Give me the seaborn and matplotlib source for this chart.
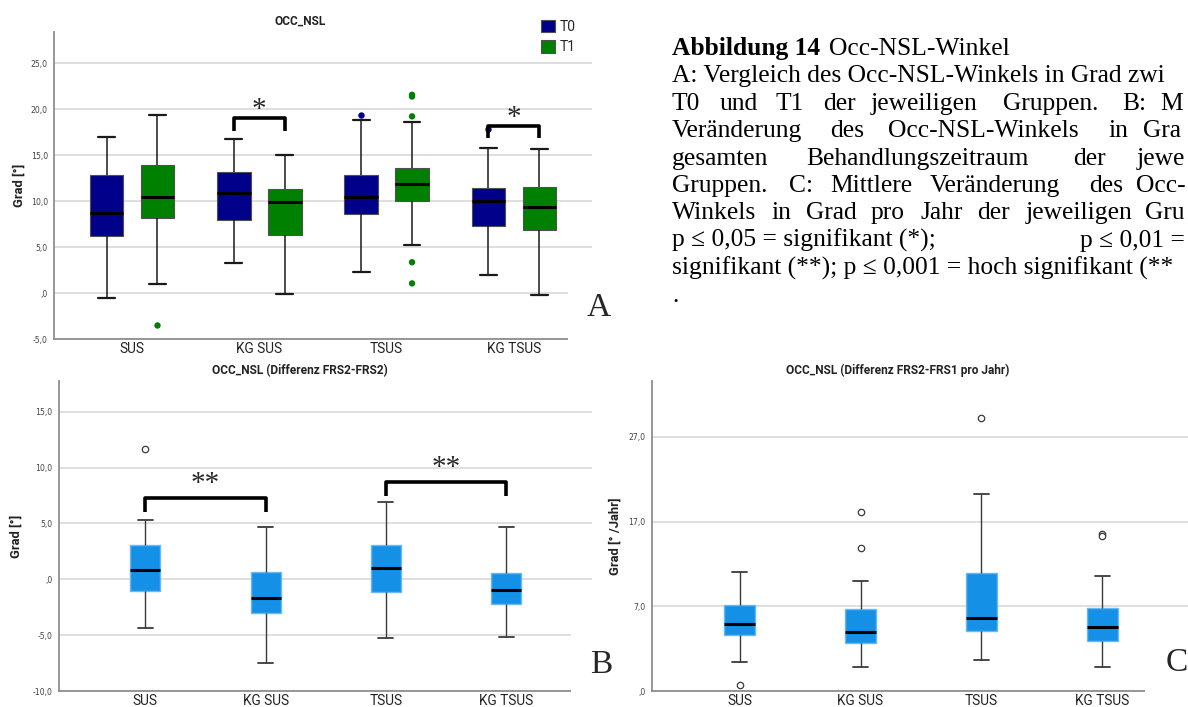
import matplotlib
matplotlib.use("Agg")
import matplotlib.pyplot as plt
from matplotlib.patches import Rectangle
import pandas as pd
import seaborn as sns

# ---------------------------------------------------------------- data
groups = ["SUS", "KG SUS", "TSUS", "KG TSUS"]
times = ["T0", "T1"]

# five-number summaries per group: lower whisker, Q1, median, Q3, upper whisker
occ_t0 = [[-0.58, 6.17, 8.76, 12.80, 17.00],
          [3.25, 7.97, 10.93, 13.16, 16.77],
          [2.24, 8.58, 10.46, 12.84, 18.86],
          [1.95, 7.32, 10.06, 11.47, 15.76]]
occ_t1 = [[0.94, 8.15, 10.46, 13.96, 19.37],
          [-0.14, 6.31, 9.92, 11.36, 15.04],
          [5.23, 10.06, 11.86, 13.63, 18.64],
          [-0.25, 6.82, 9.34, 11.54, 15.65]]
occ_out_t0 = {"TSUS": [19.37], "KG TSUS": [17.89]}
occ_out_t1 = {"SUS": [-3.46], "TSUS": [21.57, 21.38, 19.22, 3.35, 1.05]}

diff_stats = [[-4.39, -1.02, 0.81, 3.05, 5.32],
              [-7.50, -3.02, -1.67, 0.69, 4.69],
              [-5.29, -1.11, 1.02, 3.08, 6.93],
              [-5.17, -2.24, -0.99, 0.54, 4.69]]
diff_out = {"SUS": [11.62]}

rate_stats = [[0.43, 3.58, 4.92, 7.13, 11.07],
              [-0.16, 2.64, 3.94, 6.66, 9.97],
              [0.63, 4.13, 5.63, 10.91, 20.22],
              [-0.16, 2.95, 4.53, 6.81, 10.52]]
rate_out = {"SUS": [-2.25], "KG SUS": [18.09, 13.91], "TSUS": [29.2],
            "KG TSUS": [15.49, 15.33]}

a_ticks = [-5, 0, 5, 10, 15, 20, 25]
a_tick_labels = ["-5,0", ",0", "5,0", "10,0", "15,0", "20,0", "25,0"]
b_ticks = [-10, -5, 0, 5, 10, 15]
b_tick_labels = ["-10,0", "-5,0", ",0", "5,0", "10,0", "15,0"]
c_ticks = [-3, 7, 17, 27]
c_tick_labels = [",0", "7,0", "17,0", "27,0"]

# significance brackets: (left end, right end, bracket height, leg end, stars)
a_brackets = [(0.8, 1.2, 19.04, 17.67, "*"), (2.8, 3.2, 18.14, 16.84, "*")]
b_brackets = [(0.0, 1.0, 7.26, 6.00, "**"), (2.0, 3.0, 8.69, 7.50, "**")]

caption_lines = [
    [(672, "Abbildung 14", "bold"), (829, "Occ-NSL-Winkel", "normal")],
    [(672, "A: Vergleich des Occ-NSL-Winkels in Grad zwi", "normal")],
    [(672, "T0", "normal"), (720, "und", "normal"), (775, "T1", "normal"),
     (823, "der", "normal"), (871, "jeweiligen", "normal"),
     (1003, "Gruppen.", "normal"), (1122, "B:", "normal"), (1160, "M", "normal")],
    [(672, "Veränderung", "normal"), (830, "des", "normal"),
     (888, "Occ-NSL-Winkels", "normal"), (1108, "in", "normal"),
     (1143, "Gra", "normal")],
    [(672, "gesamten", "normal"), (806, "Behandlungszeitraum", "normal"),
     (1073, "der", "normal"), (1137, "jewe", "normal")],
    [(672, "Gruppen.", "normal"), (789, "C:", "normal"), (830, "Mittlere", "normal"),
     (930, "Veränderung", "normal"), (1089, "des", "normal"), (1136, "Occ-", "normal")],
    [(672, "Winkels", "normal"), (771, "in", "normal"), (806, "Grad", "normal"),
     (871, "pro", "normal"), (920, "Jahr", "normal"), (977, "der", "normal"),
     (1026, "jeweiligen", "normal"), (1145, "Gru", "normal")],
    [(672, "p ≤ 0,05 = signifikant (*);", "normal"), (1080, "p ≤ 0,01 =", "normal")],
    [(672, "signifikant (**); p ≤ 0,001 = hoch signifikant (**", "normal")],
    [(672, ".", "normal")],
]


def summary_frame(stats, extra=None):
    rows = []
    for g, s in zip(groups, stats):
        for v in s:
            row = {"group": g, "value": v}
            if extra:
                row.update(extra)
            rows.append(row)
    return rows


def outlier_frame(out, extra=None):
    rows = []
    for g, vals in out.items():
        for v in vals:
            row = {"group": g, "value": v}
            if extra:
                row.update(extra)
            rows.append(row)
    return rows


df_a = pd.DataFrame(summary_frame(occ_t0, {"time": "T0"}) + summary_frame(occ_t1, {"time": "T1"}))
df_a_out = pd.DataFrame(outlier_frame(occ_out_t0, {"time": "T0"}) + outlier_frame(occ_out_t1, {"time": "T1"}))
df_b = pd.DataFrame(summary_frame(diff_stats))
df_b_out = pd.DataFrame(outlier_frame(diff_out))
df_c = pd.DataFrame(summary_frame(rate_stats))
df_c_out = pd.DataFrame(outlier_frame(rate_out))

# ---------------------------------------------------------------- style
sns.set_style("white")
SANS = ["Roboto", "DejaVu Sans"]
SERIF = ["Liberation Serif", "DejaVu Serif"]
plt.rcParams["font.family"] = SANS

W, H = 1188, 707
fig = plt.figure(figsize=(W / 100, H / 100), dpi=100)
fig.patch.set_facecolor("white")


def frame(l, t, r, b):
    return [l / W, 1 - b / H, (r - l) / W, (b - t) / H]


axA = fig.add_axes(frame(54, 32, 592, 339))
axB = fig.add_axes(frame(58.6, 381, 592, 691))
axC = fig.add_axes(frame(651.7, 381, 1188, 691))

palette = {"T0": "#00008B", "T1": "#008000"}

sns.boxplot(data=df_a, x="group", y="value", hue="time", order=groups,
            hue_order=times, palette=palette, saturation=1, width=0.8, gap=0.34,
            whis=(0, 100), showfliers=False, linecolor="#1a1a1a", ax=axA,
            boxprops=dict(edgecolor="#505050", linewidth=0.8),
            medianprops=dict(color="black", linewidth=2.2),
            whiskerprops=dict(color="#1a1a1a", linewidth=1.1),
            capprops=dict(color="#1a1a1a", linewidth=1.6))
sns.stripplot(data=df_a_out, x="group", y="value", hue="time", order=groups,
              hue_order=times, palette=palette, dodge=True, jitter=False,
              size=4.6, linewidth=0, legend=False, ax=axA)

blue_box = dict(color="#1490E6", saturation=1, width=0.25, whis=(0, 100),
                showfliers=False, linecolor="#3a3a3a",
                boxprops=dict(edgecolor="#6BB9F0", linewidth=1.0),
                medianprops=dict(color="black", linewidth=2.2),
                whiskerprops=dict(color="#3a3a3a", linewidth=1.0),
                capprops=dict(color="#3a3a3a", linewidth=1.3))
open_pts = dict(color="white", edgecolor="#3a3a3a", linewidth=0.9, size=4.6,
                jitter=False)

sns.boxplot(data=df_b, x="group", y="value", order=groups, ax=axB, **blue_box)
sns.stripplot(data=df_b_out, x="group", y="value", order=groups, ax=axB, **open_pts)
sns.boxplot(data=df_c, x="group", y="value", order=groups, ax=axC, **blue_box)
sns.stripplot(data=df_c_out, x="group", y="value", order=groups, ax=axC, **open_pts)


def style_axis(ax, ylim, ticks, labels, xlim, title, title_x, ylabel, ylabel_x):
    ax.set_xlim(*xlim)
    ax.set_ylim(*ylim)
    ax.set_yticks(ticks)
    ax.set_yticklabels(labels, fontsize=5.6, color="#444444", family="DejaVu Sans")
    for lab in ax.get_xticklabels():
        lab.set_fontsize(9.8)
        lab.set_color("#222222")
    ax.set_xlabel("")
    ax.set_ylabel(ylabel, fontsize=9.4, fontweight="bold", color="#222222")
    ax.yaxis.set_label_coords(ylabel_x, 0.5)
    ax.grid(axis="y", color="#d6d6d6", linewidth=1.1)
    ax.grid(axis="x", visible=False)
    ax.set_axisbelow(True)
    for s in ("top", "right"):
        ax.spines[s].set_visible(False)
    for s in ("left", "bottom"):
        ax.spines[s].set_color("#8f8f8f")
        ax.spines[s].set_linewidth(1.3)
    ax.tick_params(axis="both", length=0)
    ax.tick_params(axis="y", pad=4.5)
    ax.tick_params(axis="x", pad=2.2)
    ax.set_title(title, fontsize=8.6, fontweight="bold", x=title_x, pad=5,
                 color="#222222")
    ax.set_facecolor("white")


style_axis(axA, (-5, 28.4), a_ticks, a_tick_labels, (-0.613, 3.614), "OCC_NSL",
           0.457, "Grad [°]", -0.052)
style_axis(axB, (-10, 17.75), b_ticks, b_tick_labels, (-0.722, 3.715),
           "OCC_NSL (Differenz FRS2-FRS2)", 0.4526, "Grad [°]", -0.0667)
style_axis(axC, (-3, 33.6), c_ticks, c_tick_labels, (-0.726, 3.707),
           "OCC_NSL (Differenz FRS2-FRS1 pro Jahr)", 0.459, "Grad [° /Jahr]", -0.0554)

# legend for the time points
sns.move_legend(axA, "upper left", bbox_to_anchor=(541 / W, 1 - 20 / H),
                bbox_transform=fig.transFigure, frameon=False, fontsize=10,
                handlelength=1.0, handleheight=1.0, handletextpad=0.35,
                labelspacing=0.45, borderpad=0, borderaxespad=0)
axA.get_legend().set_title("")


def draw_brackets(ax, brackets, star_offset, star_size):
    for x0, x1, top, leg, stars in brackets:
        ax.plot([x0, x0, x1, x1], [leg, top, top, leg], color="black", lw=2.6,
                solid_joinstyle="round", solid_capstyle="butt", zorder=4)
        ax.text((x0 + x1) / 2, top + star_offset, stars, family=SERIF,
                fontsize=star_size, ha="center", va="center", zorder=4)


draw_brackets(axA, a_brackets, 0.9, 21)
draw_brackets(axB, b_brackets, 1.3, 21)

# panel letters sit on white boxes over the chart corners
for (x0, y0, x1, y1), (lx, ly, letter) in [
        ((568, 258, 625, 346), (599, 308, "A")),
        ((571, 600, 625, 707), (601, 665, "B")),
        ((1145, 620, 1188, 707), (1177, 663, "C"))]:
    fig.add_artist(Rectangle((x0 / W, 1 - y1 / H), (x1 - x0) / W, (y1 - y0) / H,
                             transform=fig.transFigure, facecolor="white",
                             edgecolor="none", zorder=5))
    fig.text(lx / W, 1 - ly / H, letter, family=SERIF, fontsize=24,
             ha="center", va="center", zorder=6)

# figure caption
for i, line in enumerate(caption_lines):
    baseline = 55 + 27.4 * i
    for x, word, weight in line:
        fig.text(x / W, 1 - baseline / H, word, family=SERIF, fontsize=18.4,
                 fontweight=weight, ha="left", va="baseline", color="black",
                 zorder=6)

fig.savefig("out.png", dpi=100, facecolor="white")
